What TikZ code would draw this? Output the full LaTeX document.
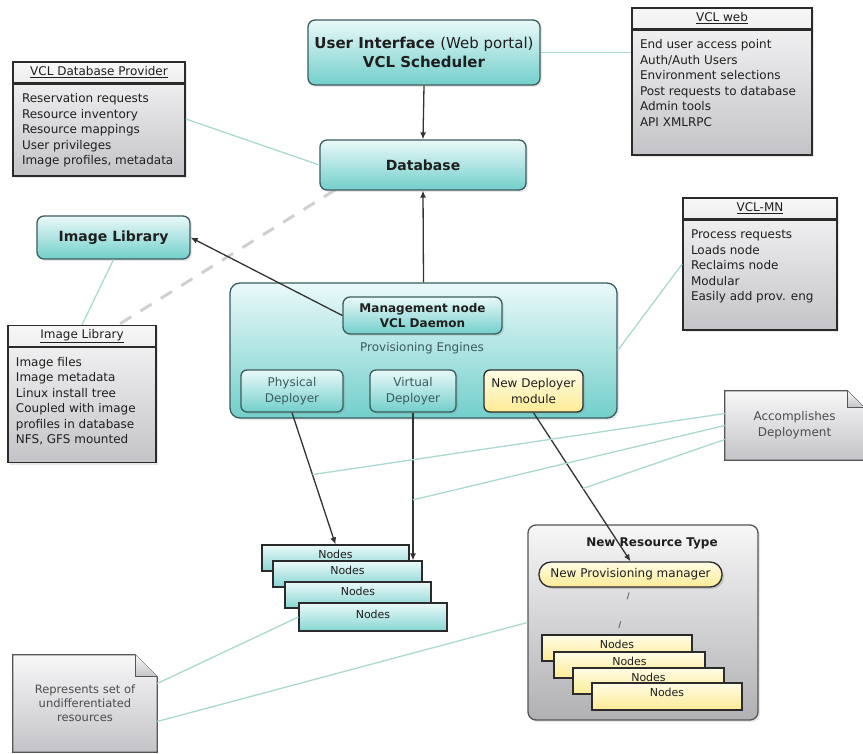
\documentclass[tikz,border=0pt]{standalone}
\usepackage{fontspec}
\setmainfont{DejaVu Sans}
\usetikzlibrary{arrows.meta,positioning,shadows}

\definecolor{vclteallight}{HTML}{EAF9F9}
\definecolor{vclteal}{HTML}{72CFCB}
\definecolor{vcltealborder}{HTML}{3A5C5C}
\definecolor{vclyellowlight}{HTML}{FFFCE6}
\definecolor{vclyellow}{HTML}{FCEB95}
\definecolor{vclgraylight}{HTML}{F7F7F8}
\definecolor{vclgray}{HTML}{C4C4C8}
\definecolor{vclborder}{HTML}{2B2B2B}
\definecolor{vcltext}{HTML}{1F1F1F}
\definecolor{vclarrow}{HTML}{333333}
\definecolor{vclassoc}{HTML}{A9D9D0}
\definecolor{vcldash}{HTML}{D0D0D0}
\tikzset{
  vcl shadow/.style={drop shadow={opacity=0.18, shadow xshift=2pt, shadow yshift=-2pt}},
  vcl model/.style={
    rectangle, rounded corners=7pt,
    draw=vcltealborder, line width=1.3pt,
    top color=vclteallight, bottom color=vclteal, text=vcltext,
    inner sep=0pt, align=center,
    font=\fontsize{14}{18}\selectfont\bfseries, vcl shadow
  },
  vcl engine/.style={vcl model, rounded corners=6pt, text=vcltealborder,
    font=\fontsize{12}{16}\selectfont},
  vcl new/.style={vcl engine, draw=vclborder, text=vcltext,
    top color=vclyellowlight, bottom color=vclyellow},
  vcl class/.style={
    rectangle, draw=vclborder, line width=1.6pt,
    top color=vclgraylight, bottom color=vclgray,
    inner sep=0pt, vcl shadow
  },
  vcl class head/.style={anchor=north, inner sep=0pt, minimum height=22pt,
    font=\fontsize{12}{15}\selectfont, text=vcltext},
  vcl class body/.style={align=left, inner sep=0pt,
    font=\fontsize{12}{15.5}\selectfont, text=vcltext},
  vcl class rule/.style={draw=vclborder, line width=2.4pt},
  vcl stack/.style={rectangle, draw=vclborder, line width=1.1pt,
    top color=vclteallight, bottom color=vclteal!85, inner sep=0pt},
  vcl stack yellow/.style={vcl stack, top color=vclyellowlight, bottom color=vclyellow},
  vcl stack label/.style={anchor=north, inner sep=0pt, yshift=-5pt,
    font=\fontsize{11}{13}\selectfont, text=vcltext},
  vcl group/.style={rectangle, rounded corners=8pt, draw=vclborder!80, line width=1.3pt,
    top color=vclgraylight, bottom color=vclgray!90!black, vcl shadow},
  vcl note/.style={inner sep=0pt, align=center, font=\fontsize{12}{16}\selectfont, text=vcltext!80},
  vcl note frame/.style={draw=vclborder!80, line width=1.2pt,
    top color=vclgraylight, bottom color=vclgray},
  vcl arrow/.style={draw=vclarrow, line width=1.3pt, -{Latex[length=7pt,width=6pt]}},
  vcl assoc/.style={draw=vclassoc, line width=1.3pt},
  vcl dash/.style={draw=vcldash, line width=3pt, dash pattern=on 13pt off 11pt}
}

\begin{document}
\begin{tikzpicture}[x=1pt,y=-1pt]
  \useasboundingbox (0,0) rectangle (863,754);

  % links behind everything
  \draw[vcl dash] (335,190) -- (118,325);

  % main models
  \node[vcl model, minimum width=232pt, minimum height=65pt, font=\fontsize{15}{19}\selectfont\bfseries] (ui) at (424,52.5)
    {User Interface {\mdseries (Web portal)}\\VCL Scheduler};
  \node[vcl model, minimum width=206pt, minimum height=50pt] (db) at (423,165) {Database};
  \node[vcl model, minimum width=153pt, minimum height=43pt] (imgnode) at (113.5,237.5) {Image Library};

  % management node and engines
  \node[vcl model, rounded corners=10pt, minimum width=387pt, minimum height=135pt] (prov) at (423.5,350.5) {};
  \node[vcl model, minimum width=159pt, minimum height=37pt, font=\fontsize{12}{15}\selectfont\bfseries] (mgmt) at (422.5,315.5)
    {Management node\\VCL Daemon};
  \node[font=\fontsize{12}{15}\selectfont, text=vcltealborder] (provlabel) at (422,348) {Provisioning Engines};
  \node[vcl engine, minimum width=102pt, minimum height=42pt] (phys) at (292,391) {Physical\\Deployer};
  \node[vcl engine, minimum width=86pt, minimum height=42pt] (virt) at (413,391) {Virtual\\Deployer};
  \node[vcl new, minimum width=99pt, minimum height=42pt] (newdep) at (533.5,391) {New Deployer\\module};

  % class boxes
  \node[vcl class, minimum width=172pt, minimum height=114pt] (dbprov) at (99,119) {};
  \node[vcl class head, minimum width=172pt] (dbprovhead) at (dbprov.north) {\underline{VCL Database Provider}};
  \draw[vcl class rule] (dbprovhead.south west) -- (dbprovhead.south east);
  \node[vcl class body, below right=10pt and 9pt of dbprovhead.south west] (dbprovbody)
    {Reservation requests\\Resource inventory\\Resource mappings\\User privileges\\Image profiles, metadata};

  \node[vcl class, minimum width=180pt, minimum height=147pt] (web) at (722,81.5) {};
  \node[vcl class head, minimum width=180pt] (webhead) at (web.north) {\underline{VCL web}};
  \draw[vcl class rule] (webhead.south west) -- (webhead.south east);
  \node[vcl class body, below right=10pt and 8pt of webhead.south west] (webbody)
    {End user access point\\Auth/Auth Users\\Environment selections\\Post requests to database\\Admin tools\\API XMLRPC};

  \node[vcl class, minimum width=154pt, minimum height=132pt] (mn) at (760,264) {};
  \node[vcl class head, minimum width=154pt] (mnhead) at (mn.north) {\underline{VCL-MN}};
  \draw[vcl class rule] (mnhead.south west) -- (mnhead.south east);
  \node[vcl class body, below right=10pt and 8pt of mnhead.south west] (mnbody)
    {Process requests\\Loads node\\Reclaims node\\Modular\\Easily add prov. eng};

  \node[vcl class, minimum width=148pt, minimum height=137pt] (imglib) at (82,394) {};
  \node[vcl class head, minimum width=148pt] (imglibhead) at (imglib.north) {\underline{Image Library}};
  \draw[vcl class rule] (imglibhead.south west) -- (imglibhead.south east);
  \node[vcl class body, below right=10pt and 8pt of imglibhead.south west] (imglibbody)
    {Image files\\Image metadata\\Linux install tree\\Coupled with image\\profiles in database\\NFS, GFS mounted};

  % nodes stack
  \node[vcl stack, minimum width=147pt, minimum height=26pt] (nodes1) at (335.5,558) {};
  \node[vcl stack label] (nodes1text) at (nodes1.north) {Nodes};
  \node[vcl stack, minimum width=149pt, minimum height=26pt] (nodes2) at (347.5,574) {};
  \node[vcl stack label] (nodes2text) at (nodes2.north) {Nodes};
  \node[vcl stack, minimum width=146pt, minimum height=26pt] (nodes3) at (358,595) {};
  \node[vcl stack label] (nodes3text) at (nodes3.north) {Nodes};
  \node[vcl stack, minimum width=148pt, minimum height=28pt] (nodes4) at (373,617) {};
  \node[vcl stack label, yshift=-2pt] (nodes4text) at (nodes4.north) {Nodes};

  % new resource type
  \node[vcl group, minimum width=230pt, minimum height=195pt] (nrt) at (643,622.5) {};
  \node[font=\fontsize{12}{15}\selectfont\bfseries, text=vcltext] (nrttitle) at (652,543) {New Resource Type};
  \node[vcl new, rounded corners=12pt, minimum width=183pt, minimum height=25pt, vcl shadow] (newmgr) at (630.5,574.5)
    {New Provisioning manager};
  \node[vcl stack yellow, minimum width=150pt, minimum height=26pt] (ynodes1) at (617,648) {};
  \node[vcl stack label] (ynodes1text) at (ynodes1.north) {Nodes};
  \node[vcl stack yellow, minimum width=151pt, minimum height=26pt] (ynodes2) at (629.5,665) {};
  \node[vcl stack label] (ynodes2text) at (ynodes2.north) {Nodes};
  \node[vcl stack yellow, minimum width=151pt, minimum height=26pt] (ynodes3) at (648.5,681) {};
  \node[vcl stack label] (ynodes3text) at (ynodes3.north) {Nodes};
  \node[vcl stack yellow, minimum width=150pt, minimum height=27pt] (ynodes4) at (667,696.5) {};
  \node[vcl stack label] (ynodes4text) at (ynodes4.north) {Nodes};
  \draw[draw=vclarrow!70, line width=1pt, dash pattern=on 7pt off 23pt, dash phase=25pt] (newmgr.south) -- (ynodes1.north);

  % notes
  \node[minimum width=139pt, minimum height=69pt, inner sep=0pt] (accnote) at (794.5,425.5) {};
  \shade[vcl note frame] (accnote.south west) -- (accnote.north west) -- ([xshift=-17pt]accnote.north east)
    -- ([yshift=-17pt]accnote.north east) -- (accnote.south east) -- cycle;
  \draw[vcl note frame, fill=white] ([xshift=-17pt]accnote.north east) -- ([xshift=-17pt,yshift=-17pt]accnote.north east)
    -- ([yshift=-17pt]accnote.north east);
  \node[vcl note] (accnotetext) at (accnote) {Accomplishes\\Deployment};

  \node[minimum width=144pt, minimum height=97pt, inner sep=0pt] (repnote) at (85,703.5) {};
  \shade[vcl note frame] (repnote.south west) -- (repnote.north west) -- ([xshift=-22pt]repnote.north east)
    -- ([yshift=-22pt]repnote.north east) -- (repnote.south east) -- cycle;
  \draw[vcl note frame, fill=white] ([xshift=-22pt]repnote.north east) -- ([xshift=-22pt,yshift=-22pt]repnote.north east)
    -- ([yshift=-22pt]repnote.north east);
  \node[vcl note, font=\fontsize{11.5}{14}\selectfont] (repnotetext) at (repnote) {Represents set of\\undifferentiated\\resources};

  % flows
  \draw[vcl arrow] (ui.south) -- (db.north);
  \draw[vcl arrow] (prov.north) -- (db.south);
  \draw[vcl arrow] (mgmt.west) -- (imgnode.east);
  \draw[vcl arrow] (phys.south) -- (nodes1.north) coordinate[pos=0.47] (physmid);
  \draw[vcl arrow] (virt.south) -- (virt.south |- nodes2.north) coordinate[pos=0.59] (virtmid);
  \draw[vcl arrow] (newdep.south) -- (newmgr.north) coordinate[pos=0.51] (newdepmid);

  % associations
  \draw[vcl assoc] (dbprov.east) -- (db.west);
  \draw[vcl assoc] (ui.east) -- (ui.east -| web.west);
  \draw[vcl assoc] (imgnode.south) -- (imglib.north);
  \draw[vcl assoc] (prov.east) -- (mn.west);
  \draw[vcl assoc] ([yshift=12pt]accnote.west) -- (physmid);
  \draw[vcl assoc] (accnote.west) -- (virtmid);
  \draw[vcl assoc] ([yshift=-14pt]accnote.west) -- (newdepmid);
  \draw[vcl assoc] ([yshift=20pt]repnote.east) -- (nodes4.west);
  \draw[vcl assoc] ([yshift=-18pt]repnote.east) -- (nrt.west);
\end{tikzpicture}
\end{document}
